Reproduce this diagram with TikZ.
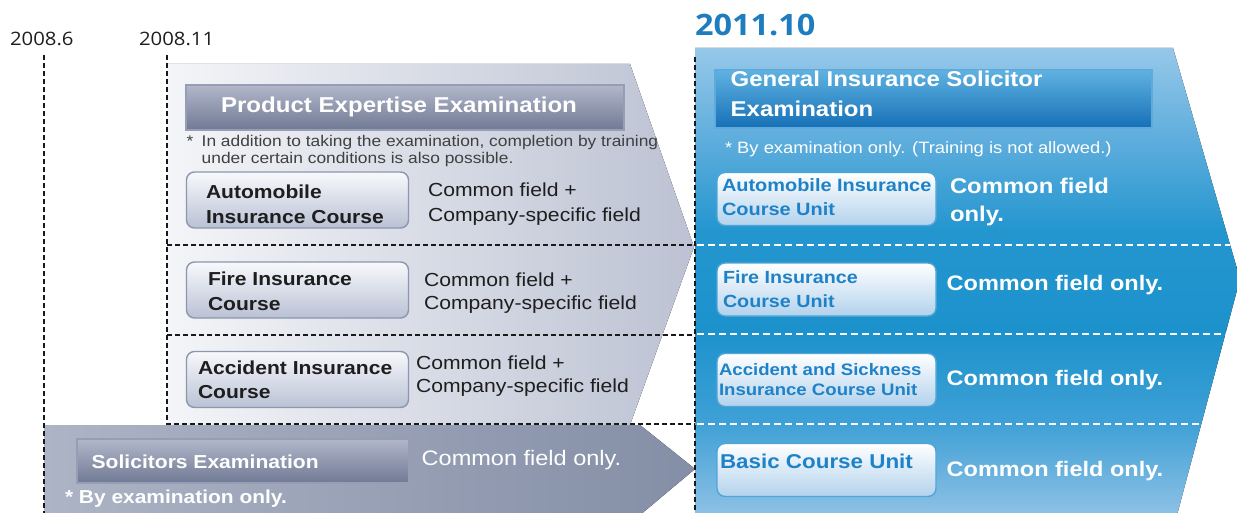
\documentclass[tikz,border=0pt]{standalone}
\usepackage{fontspec}
\setmainfont{Liberation Sans}[FakeStretch=1.12]
\newfontfamily\datefont{Open Sans}[FakeStretch=1.1]
\definecolor{ink}{RGB}{30,30,30}
\definecolor{boxedge}{RGB}{140,150,175}
\definecolor{boxtop}{RGB}{248,249,252}
\definecolor{boxbot}{RGB}{185,193,212}
\definecolor{bartop}{RGB}{178,183,202}
\definecolor{barbot}{RGB}{112,122,148}
\definecolor{baredge}{RGB}{150,157,180}
\definecolor{upperL}{RGB}{244,245,248}
\definecolor{upperR}{RGB}{188,194,211}
\definecolor{darkL}{RGB}{172,180,197}
\definecolor{darkR}{RGB}{132,142,166}
\definecolor{blueA}{RGB}{142,193,229}
\definecolor{blueB}{RGB}{62,160,214}
\definecolor{blueC}{RGB}{28,146,204}
\definecolor{blueD}{RGB}{36,150,207}
\definecolor{blueE}{RGB}{100,176,222}
\definecolor{blueF}{RGB}{150,200,233}
\definecolor{btTop}{RGB}{95,178,225}
\definecolor{btBot}{RGB}{22,112,182}
\definecolor{btEdge}{RGB}{95,170,220}
\definecolor{unitbot}{RGB}{178,210,236}
\definecolor{unitedge}{RGB}{80,165,215}
\definecolor{unitblue}{RGB}{30,130,200}
\definecolor{dateblue}{RGB}{30,125,190}
\pgfdeclareverticalshading{bluefan}{100bp}{color(0bp)=(blueA); color(25bp)=(blueA); color(35bp)=(blueB); color(44.8bp)=(blueC); color(55.5bp)=(blueD); color(66.2bp)=(blueE); color(75bp)=(blueF); color(100bp)=(blueF)}
\tikzset{
  graybox/.style={draw=boxedge, line width=1.4pt, rounded corners=8pt, top color=boxtop, bottom color=boxbot, minimum width=222pt, minimum height=56pt, inner sep=0pt, outer sep=0pt},
  unitbox/.style={draw=unitedge, line width=1.4pt, rounded corners=8pt, top color=white, bottom color=unitbot, minimum width=219pt, minimum height=53pt, inner sep=0pt, outer sep=0pt},
  graybar/.style={draw=baredge, line width=1.2pt, top color=bartop, bottom color=barbot, inner sep=0pt, outer sep=0pt},
  bluebar/.style={draw=btEdge, line width=1.2pt, top color=btTop, bottom color=btBot, inner sep=0pt, outer sep=0pt},
  txt/.style={inner sep=0pt, outer sep=0pt, align=left},
  boxlabel/.style={txt, font=\fontsize{18.8}{25}\selectfont\bfseries, text=ink},
  fieldlabel/.style={txt, text=ink},
  unitlabel/.style={txt, font=\fontsize{17.6}{24}\selectfont\bfseries, text=unitblue},
  onlylabel/.style={txt, font=\fontsize{21}{28.4}\selectfont\bfseries, text=white},
  datelabel/.style={txt, font=\datefont\fontsize{18.5}{20}\selectfont, text=ink},
  blackdash/.style={draw=black!90, line width=2pt, dash pattern=on 5pt off 3pt},
  whitedash/.style={draw=white, line width=2pt, dash pattern=on 7pt off 4pt},
}
\begin{document}
\begin{tikzpicture}[x=1pt,y=-1pt]
\useasboundingbox (0,0) rectangle (1237,513);
\clip (0,0) rectangle (1237,513);
% background shapes
\fill[left color=upperL, right color=upperR] (167,64) -- (630,64) -- (694,247) -- (630,425) -- (167,425) -- cycle;
\fill[left color=darkL, right color=darkR] (44,425) -- (640,425) -- (695,469) -- (640,515) -- (44,515) -- cycle;
\fill[shading=bluefan] (695,48) -- (1173,48) -- (1240,279) -- (1177,515) -- (695,515) -- cycle;
% white dashes on blue
\begin{scope}
\clip (695,48) -- (1173,48) -- (1240,279) -- (1177,515) -- (695,515) -- cycle;
\coordinate (w1a) at (697,245); \coordinate (w1b) at (1240,245);
\coordinate (w2a) at (697,334); \coordinate (w2b) at (1240,334);
\coordinate (w3a) at (697,424); \coordinate (w3b) at (1240,424);
\draw[whitedash] (w1a) -- (w1b);
\draw[whitedash] (w2a) -- (w2b);
\draw[whitedash] (w3a) -- (w3b);
\end{scope}
% black dashed lines
\coordinate (v1t) at (44,55); \coordinate (v1b) at (44,513);
\coordinate (v2t) at (167,55); \coordinate (v2b) at (167,424);
\coordinate (v3t) at (695,57); \coordinate (v3b) at (695,513);
\coordinate (h1a) at (167,245); \coordinate (h1b) at (695,245);
\coordinate (h2a) at (167,335); \coordinate (h2b) at (695,335);
\coordinate (h3b) at (695,424);
\draw[blackdash] (v1t) -- (v1b);
\draw[blackdash] (v2t) -- (v2b) -- (h3b);
\draw[blackdash] (h1a) -- (h1b);
\draw[blackdash] (h2a) -- (h2b);
\draw[blackdash] (v3t) -- (v3b);
% bars
\node[graybar, minimum width=438pt, minimum height=45pt] (pbar) at (405,107.5) {};
\node[graybar, minimum width=332pt, minimum height=44pt] (sbar) at (243,461) {};
\node[bluebar, minimum width=437pt, minimum height=58pt] (gbar) at (933.5,99) {};
% gray course boxes
\node[graybox] (autobox) at (297.5,200) {};
\node[graybox] (firebox) at (297.5,290) {};
\node[graybox] (accbox) at (297.5,379.5) {};
% blue unit boxes
\node[unitbox] (autounit) at (826.5,199) {};
\node[unitbox] (fireunit) at (826.5,289.5) {};
\node[unitbox] (accunit) at (826.5,380) {};
\node[unitbox] (basicunit) at (826.5,470) {};
% dates
\node[datelabel, anchor=base west] (d1) at (10,45.5) {2008.6};
\node[datelabel, anchor=base west] (d2) at (139,45.5) {2008.11};
\node[txt, anchor=base west, font=\datefont\fontsize{29.5}{30}\selectfont\bfseries, text=dateblue] (d3) at (695,35.5) {2011.10};
% gray side texts
\node[txt, anchor=base west, font=\fontsize{21.5}{24}\selectfont\bfseries, text=white] (ptitle) at (221,112.3) {Product Expertise Examination};
\node[txt, anchor=north west, font=\fontsize{15.5}{16.7}\selectfont, text=ink!85] (pnote) at (201.7,135.6) {\llap{*\hspace{8.2pt}}In addition to taking the examination, completion by training\\under certain conditions is also possible.};
\node[boxlabel, anchor=north west] (autotxt) at (206,184.8) {Automobile\\Insurance Course};
\node[fieldlabel, anchor=north west, font=\fontsize{18.9}{25}\selectfont] (autofield) at (428,183.2) {Common field +\\Company-specific field};
\node[boxlabel, anchor=north west] (firetxt) at (208,271.5) {Fire Insurance\\Course};
\node[fieldlabel, anchor=north west, font=\fontsize{18.9}{23.3}\selectfont] (firefield) at (424,272.5) {Common field +\\Company-specific field};
\node[boxlabel, anchor=north west, font=\fontsize{18.8}{24.3}\selectfont\bfseries] (acctxt) at (198,360.5) {Accident Insurance\\Course};
\node[fieldlabel, anchor=north west, font=\fontsize{18.9}{23.4}\selectfont] (accfield) at (416,355.8) {Common field +\\Company-specific field};
\node[txt, anchor=base west, font=\fontsize{18.8}{22}\selectfont\bfseries, text=white] (stitle) at (91.7,468.3) {Solicitors Examination};
\node[txt, anchor=base west, font=\fontsize{18.7}{22}\selectfont\bfseries, text=white] (snote) at (65,503.3) {* By examination only.};
\node[txt, anchor=base west, font=\fontsize{21}{24}\selectfont, text=white] (sfield) at (421.7,465) {Common field only.};
% blue side texts
\node[txt, anchor=north west, font=\fontsize{21.4}{29.3}\selectfont\bfseries, text=white] (gtitle) at (730.7,71.4) {General Insurance Solicitor\\Examination};
\node[txt, anchor=base west, font=\fontsize{16.4}{20}\selectfont, text=white] (gnote) at (725,153.3) {* By examination only. (Training is not allowed.)};
\node[unitlabel, anchor=north west, font=\fontsize{17.8}{24}\selectfont\bfseries] (autounittxt) at (722,179) {Automobile Insurance\\Course Unit};
\node[onlylabel, anchor=north west, font=\fontsize{21.3}{28.4}\selectfont\bfseries] (autoonly) at (950,178) {Common field\\only.};
\node[unitlabel, anchor=north west] (fireunittxt) at (723,270.7) {Fire Insurance\\Course Unit};
\node[onlylabel, anchor=base west] (fireonly) at (946.7,290) {Common field only.};
\node[unitlabel, anchor=north west, font=\fontsize{16.6}{20}\selectfont\bfseries] (accunittxt) at (719,363.1) {Accident and Sickness\\Insurance Course Unit};
\node[onlylabel, anchor=base west] (acconly) at (946.7,385) {Common field only.};
\node[unitlabel, anchor=base west, font=\fontsize{20}{24}\selectfont\bfseries] (basicunittxt) at (720,468.3) {Basic Course Unit};
\node[onlylabel, anchor=base west] (basiconly) at (946.7,476.7) {Common field only.};
\end{tikzpicture}
\end{document}
